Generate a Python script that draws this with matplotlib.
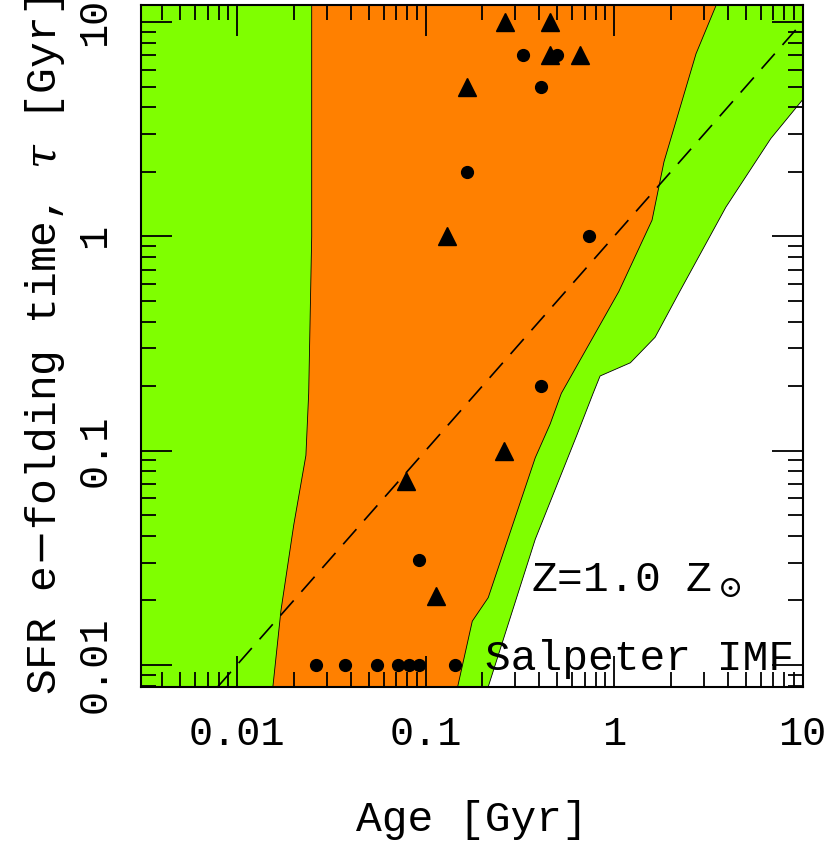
import numpy as np
import matplotlib
matplotlib.use("Agg")
import matplotlib.pyplot as plt
from matplotlib.ticker import LogLocator, NullFormatter, FixedLocator, FixedFormatter

# region boundaries (age [Gyr], tau [Gyr])
orange_left_age = [0.0249, 0.0249, 0.0240, 0.0232, 0.0200, 0.0171, 0.0155]
orange_left_tau = [13.9, 1.0, 0.185, 0.095, 0.045, 0.0179, 0.0079]
orange_right_age = [3.73, 2.72, 1.84, 1.59, 1.06, 0.525, 0.458, 0.382, 0.215, 0.177, 0.148]
orange_right_tau = [13.9, 7.11, 2.23, 1.19, 0.553, 0.185, 0.133, 0.0927, 0.0206, 0.0160, 0.0079]
green_right_age = [10.0, 10.0, 6.78, 3.92, 2.23, 1.65, 1.22, 0.843, 0.774, 0.637, 0.382, 0.215]
green_right_tau = [13.9, 4.34, 2.86, 1.37, 0.553, 0.338, 0.257, 0.223, 0.185, 0.119, 0.0386, 0.0079]

circ_age = [0.0264, 0.0372, 0.0551, 0.0711, 0.0813, 0.0918, 0.144, 0.092, 0.33, 0.50, 0.41, 0.165, 0.74, 0.41]
circ_tau = [0.01, 0.01, 0.01, 0.01, 0.01, 0.01, 0.01, 0.031, 7.0, 7.0, 5.0, 2.0, 1.0, 0.2]
tri_age = [0.265, 0.46, 0.46, 0.66, 0.165, 0.13, 0.26, 0.079, 0.113]
tri_tau = [10.0, 10.0, 7.0, 7.0, 5.0, 1.0, 0.1, 0.072, 0.021]

xlim = (0.0031, 10.0)
ylim = (0.0079, 12.0)

plt.rcParams["font.family"] = "Liberation Mono"
plt.rcParams["mathtext.fontset"] = "dejavuserif"
fig = plt.figure(figsize=(8.30, 8.49), dpi=100)
ax = fig.add_axes([0.170, 0.191, 0.797, 0.803])
ax.set_xscale("log"); ax.set_yscale("log")

green = "#7fff00"; orange = "#ff8000"
gx = [xlim[0], xlim[0]] + green_right_age[::-1]
gy = [13.9, ylim[0]] + green_right_tau[::-1]
ax.fill(gx, gy, color=green, lw=0)
ax.plot(green_right_age, green_right_tau, color="k", lw=0.6)
ox = orange_left_age + orange_right_age[::-1]
oy = orange_left_tau + orange_right_tau[::-1]
ax.fill(ox, oy, color=orange, lw=0)
ax.plot(orange_left_age, orange_left_tau, color="k", lw=0.6)
ax.plot(orange_right_age, orange_right_tau, color="k", lw=0.6)

line_age = np.array([0.0079, 13.9])
ax.plot(line_age, line_age, color="k", lw=1.2, dashes=(12, 7))

ax.plot(circ_age, circ_tau, "o", color="k", ms=8.5, ls="none")
ax.plot(tri_age, tri_tau, "^", color="k", ms=13, ls="none")

ax.set_xlim(*xlim); ax.set_ylim(*ylim)
ax.xaxis.set_major_locator(FixedLocator([0.01, 0.1, 1, 10]))
ax.xaxis.set_major_formatter(FixedFormatter(["0.01", "0.1", "1", "10"]))
ax.yaxis.set_major_locator(FixedLocator([0.01, 0.1, 1, 10]))
ax.yaxis.set_major_formatter(FixedFormatter(["0.01", "0.1", "1", "10"]))
ax.xaxis.set_minor_locator(LogLocator(subs=np.arange(2, 10)))
ax.yaxis.set_minor_locator(LogLocator(subs=np.arange(2, 10)))
ax.xaxis.set_minor_formatter(NullFormatter()); ax.yaxis.set_minor_formatter(NullFormatter())
ax.tick_params(which="both", direction="in", top=True, right=True, width=1.3, labelsize=29)
ax.tick_params(which="major", length=22, pad=20)
ax.tick_params(which="minor", length=11)
for lab in ax.get_yticklabels():
    lab.set_rotation(90); lab.set_va("center")
for s in ax.spines.values():
    s.set_linewidth(1.5)

ax.set_xlabel("Age [Gyr]", fontsize=31, labelpad=34)
ax.set_ylabel(r"SFR e$-$folding time, $\tau$ [Gyr]", fontsize=31, labelpad=6)
ax.text(0.59, 0.14, r"Z=1.0 Z$_\odot$", transform=ax.transAxes, fontsize=31)
ax.text(0.52, 0.025, "Salpeter IMF", transform=ax.transAxes, fontsize=31)

fig.savefig("out.png", dpi=100)
